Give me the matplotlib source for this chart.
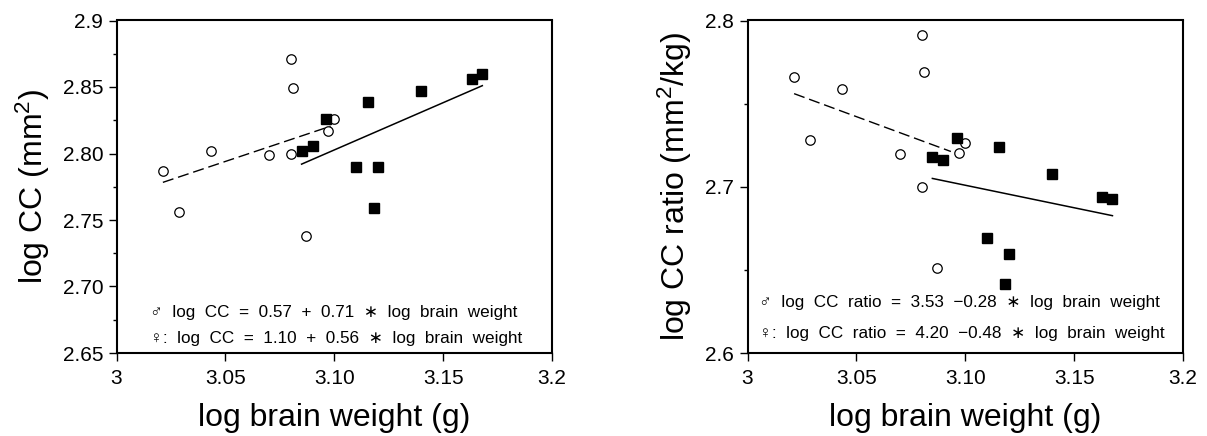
import matplotlib
matplotlib.use("Agg")
import matplotlib.pyplot as plt
from matplotlib.ticker import FixedLocator, FixedFormatter, MultipleLocator

plt.rcParams['font.family'] = ['Liberation Sans', 'DejaVu Sans']
plt.rcParams['mathtext.default'] = 'regular'

# ---------------- data ----------------
# females (open circles)
female_bw = [3.0213, 3.0286, 3.0434, 3.0701, 3.0801, 3.0810, 3.0801, 3.0872, 3.0970, 3.0998]
female_cc = [2.787, 2.756, 2.802, 2.799, 2.871, 2.8495, 2.800, 2.738, 2.817, 2.826]
female_ratio = [2.766, 2.728, 2.7586, 2.7198, 2.7914, 2.7688, 2.6998, 2.6514, 2.7204, 2.7262]

# males (filled squares)
male_bw_cc = [3.0854, 3.0902, 3.0963, 3.1100, 3.1155, 3.1200, 3.1183, 3.1397, 3.1633, 3.1680]
male_cc = [2.802, 2.806, 2.826, 2.7895, 2.839, 2.7895, 2.759, 2.847, 2.856, 2.8598]
male_bw_ratio = [3.0849, 3.0899, 3.0964, 3.1100, 3.1155, 3.1201, 3.1181, 3.1399, 3.1630, 3.1676]
male_ratio = [2.7178, 2.7162, 2.7296, 2.6694, 2.724, 2.6598, 2.6414, 2.7076, 2.694, 2.6926]

# regression line end points
fit_f_cc_x, fit_f_cc_y = [3.0213, 3.0983], [2.7783, 2.8205]
fit_m_cc_x, fit_m_cc_y = [3.085, 3.168], [2.792, 2.851]
fit_f_ratio_x, fit_f_ratio_y = [3.0214, 3.0934], [2.756, 2.7212]
fit_m_ratio_x, fit_m_ratio_y = [3.0849, 3.1676], [2.705, 2.6826]

x_ticks = [3.0, 3.05, 3.10, 3.15, 3.2]
x_ticklabels = ['3', '3.05', '3.10', '3.15', '3.2']
cc_ticks = [2.65, 2.70, 2.75, 2.80, 2.85, 2.9]
cc_ticklabels = ['2.65', '2.70', '2.75', '2.80', '2.85', '2.9']
ratio_ticks = [2.6, 2.7, 2.8]
ratio_ticklabels = ['2.6', '2.7', '2.8']

eq_cc = ['\u2642  log  CC  =  0.57  +  0.71  \u2217  log  brain  weight',
         '\u2640:  log  CC  =  1.10  +  0.56  \u2217  log  brain  weight']
eq_ratio = ['\u2642  log  CC  ratio  =  3.53  \u22120.28  \u2217  log  brain  weight',
            '\u2640:  log  CC  ratio  =  4.20  \u22120.48  \u2217  log  brain  weight']

# ---------------- figure ----------------
fig = plt.figure(figsize=(12.07, 4.36), dpi=100)
W, H = 1207, 436
ax1 = fig.add_axes([116.5 / W, (436 - 353) / H, 435.5 / W, 332.5 / H])
ax2 = fig.add_axes([747.5 / W, (436 - 353) / H, 435.5 / W, 332.5 / H])


def style(ax, yticks, ylabels, yminor, ylim):
    ax.set_xlim(3.0, 3.2)
    ax.set_ylim(*ylim)
    ax.xaxis.set_major_locator(FixedLocator(x_ticks))
    ax.xaxis.set_major_formatter(FixedFormatter(x_ticklabels))
    ax.yaxis.set_major_locator(FixedLocator(yticks))
    ax.yaxis.set_major_formatter(FixedFormatter(ylabels))
    ax.yaxis.set_minor_locator(MultipleLocator(yminor))
    ax.tick_params(which='major', direction='out', length=5.5, width=1.0,
                   labelsize=15, top=False, right=False, pad=4)
    ax.tick_params(which='minor', axis='y', direction='out', length=3, width=1.0)
    ax.tick_params(axis='x', pad=6)
    for sp in ax.spines.values():
        sp.set_linewidth(1.5)


style(ax1, cc_ticks, cc_ticklabels, 0.025, (2.65, 2.9))
style(ax2, ratio_ticks, ratio_ticklabels, 0.05, (2.6, 2.8))

for ax, fx, fy, mx, my, ffx, ffy, fmx, fmy in [
        (ax1, female_bw, female_cc, male_bw_cc, male_cc,
         fit_f_cc_x, fit_f_cc_y, fit_m_cc_x, fit_m_cc_y),
        (ax2, female_bw, female_ratio, male_bw_ratio, male_ratio,
         fit_f_ratio_x, fit_f_ratio_y, fit_m_ratio_x, fit_m_ratio_y)]:
    ax.plot(ffx, ffy, color='black', lw=1.0, linestyle=(0, (8, 3.5)), zorder=2)
    ax.plot(fmx, fmy, color='black', lw=1.1, zorder=2)
    ax.plot(fx, fy, linestyle='none', marker='o', markersize=6.8,
            markerfacecolor='white', markeredgecolor='black', markeredgewidth=0.9, zorder=3)
    ax.plot(mx, my, linestyle='none', marker='s', markersize=7.8,
            markerfacecolor='black', markeredgecolor='black', zorder=4)

fs_eq = 12.3
ax1.text(0.0765, 0.123, eq_cc[0], transform=ax1.transAxes, fontsize=fs_eq, va='center', ha='left')
ax1.text(0.0765, 0.043, eq_cc[1], transform=ax1.transAxes, fontsize=fs_eq, va='center', ha='left')
ax2.text(0.026, 0.153, eq_ratio[0], transform=ax2.transAxes, fontsize=fs_eq, va='center', ha='left')
ax2.text(0.026, 0.060, eq_ratio[1], transform=ax2.transAxes, fontsize=fs_eq, va='center', ha='left')

ax1.set_xlabel('log brain weight (g)', fontsize=23)
ax2.set_xlabel('log brain weight (g)', fontsize=23)
ax1.set_ylabel('log CC (mm$^{2}$)', fontsize=23)
ax2.set_ylabel('log CC ratio (mm$^{2}$/kg)', fontsize=23)
ax1.xaxis.set_label_coords(0.5, -0.15)
ax2.xaxis.set_label_coords(0.5, -0.15)
ax1.yaxis.set_label_coords(-0.148, 0.5)
ax2.yaxis.set_label_coords(-0.123, 0.5)

fig.savefig('out.png', dpi=100, facecolor='white')
